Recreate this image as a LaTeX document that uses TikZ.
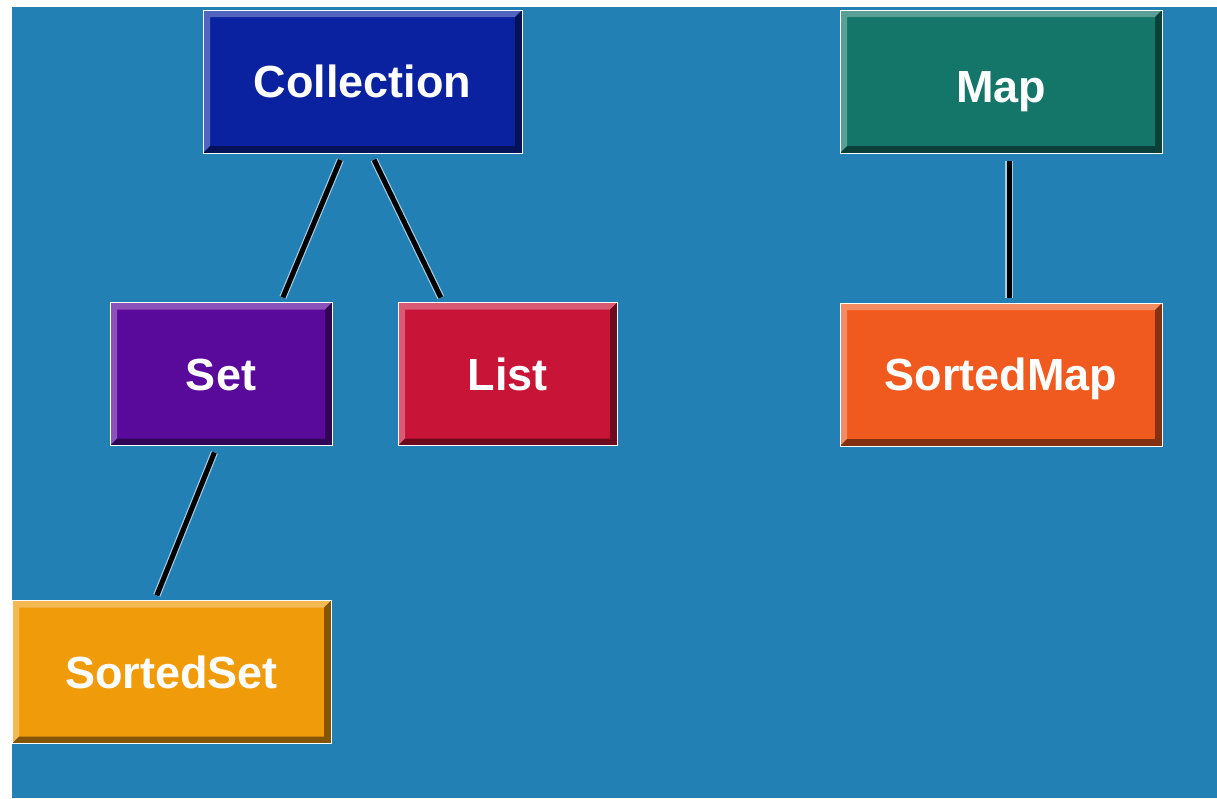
\documentclass[tikz,border=0pt]{standalone}
\usepackage{fontspec}
\setmainfont{Liberation Sans}
\usetikzlibrary{positioning, calc}
\definecolor{SlideBlue}{RGB}{34, 128, 181}
\definecolor{CollBlue}{RGB}{10, 34, 160}
\definecolor{MapTeal}{RGB}{20, 118, 104}
\definecolor{SetPurple}{RGB}{90, 10, 155}
\definecolor{ListRed}{RGB}{200, 20, 55}
\definecolor{SMapOrange}{RGB}{240, 90, 30}
\definecolor{SSetAmber}{RGB}{240, 155, 10}

\begin{document}
\begin{tikzpicture}[
        x=1pt, y=-1pt,
        iface/.style={rectangle, draw=white!70, line width=1pt, minimum height=143pt, inner sep=0pt,
            text=white, font=\fontsize{45}{50}\selectfont\bfseries, text height=32.5pt, text depth=0pt,
            path picture={
                \fill[white, opacity=.30] (path picture bounding box.south west) -- (path picture bounding box.north west)
                    -- (path picture bounding box.north east) -- ($(path picture bounding box.north east)+(-7pt,-7pt)$)
                    -- ($(path picture bounding box.north west)+(7pt,-7pt)$) -- ($(path picture bounding box.south west)+(7pt,7pt)$) -- cycle;
                \fill[black, opacity=.45] (path picture bounding box.south west) -- (path picture bounding box.south east)
                    -- (path picture bounding box.north east) -- ($(path picture bounding box.north east)+(-7pt,-7pt)$)
                    -- ($(path picture bounding box.south east)+(-7pt,7pt)$) -- ($(path picture bounding box.south west)+(7pt,7pt)$) -- cycle;
            }},
        link/.style={draw=white!60!SlideBlue, double=black, double distance=5pt, line width=1.2pt, shorten <=7pt, shorten >=5pt}
    ]
        
        % Background
        \useasboundingbox (0,0) rectangle (1217,798);
        \fill[white] (0,0) rectangle (1217,798);
        \fill[SlideBlue] (12,7) rectangle (1217,798);
        
        % Nodes
        \node[iface, fill=CollBlue, minimum width=319pt] (coll) at (362.5,81.5) {Collection};
        \node[iface, fill=MapTeal, minimum width=322pt] (map) at (1001,81.5) {\raisebox{-5pt}{Map}};
        \node[iface, fill=SetPurple, minimum width=222pt] (set) at (221,374) {Set};
        \node[iface, fill=ListRed, minimum width=219pt, right=65pt of set] (list) {List};
        \node[iface, fill=SMapOrange, minimum width=322pt, below=149pt of map] (smap) {SortedMap};
        \node[iface, fill=SSetAmber, minimum width=319pt] (sset) at (171.5,672) {SortedSet};
        
        % Links
        \draw[link] ([xshift=-19.5pt]coll.south) -- ([xshift=60pt]set.north);
        \draw[link] ([xshift=8.5pt]coll.south) -- ([xshift=-64.5pt]list.north);
        \draw[link] ([xshift=8pt]map.south) -- ([xshift=8pt]smap.north);
        \draw[link] ([xshift=-4pt]set.south) -- ([xshift=-16.5pt]sset.north);
        
    \end{tikzpicture}
\end{document}
